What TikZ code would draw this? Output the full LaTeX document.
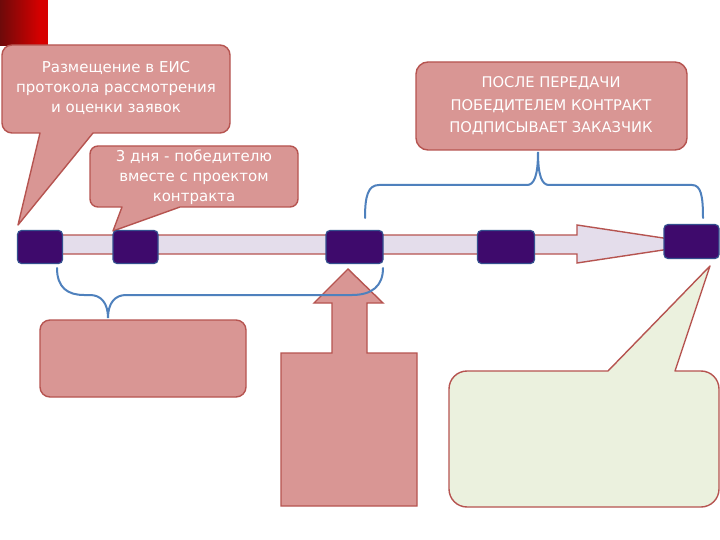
\documentclass[tikz,border=0pt]{standalone}
\usepackage{fontspec}
\setmainfont{DejaVu Sans}
\begin{document}
\begin{tikzpicture}[x=1pt,y=-1pt,
  callfill/.style={fill=calloutred,draw=calloutedge,line width=1.4pt,line join=round},
  creamfill/.style={fill=cream,draw=calloutedge,line width=1.4pt,line join=round},
  calltext/.style={text=white,align=center,font=\fontsize{15}{20}\selectfont},
  capstext/.style={text=white,align=center,font=\fontsize{14.7}{22.5}\selectfont},
  mark box/.style={fill=markpurple,draw=markedge,line width=1.2pt,rounded corners=4pt},
  bracestyle/.style={draw=braceblue,line width=2pt,line cap=round}
]
\definecolor{calloutred}{HTML}{D99694}
\definecolor{calloutedge}{HTML}{B65450}
\definecolor{cream}{HTML}{EBF1DE}
\definecolor{lavender}{HTML}{E4DDEB}
\definecolor{markpurple}{HTML}{3E0A6C}
\definecolor{markedge}{HTML}{34508F}
\definecolor{braceblue}{HTML}{4F81BD}
\definecolor{darkred}{HTML}{6E0A0A}
\definecolor{brightred}{HTML}{D60000}
\useasboundingbox (0,0) rectangle (720,540);
\fill[white] (0,0) rectangle (720,540);
% red corner decoration
\shade[left color=darkred,right color=brightred] (0,0) rectangle (40,46);
\fill[brightred] (40,0) rectangle (48,46);

% timeline arrow
\draw[fill=lavender,draw=calloutedge,line width=1.4pt,line join=miter]
  (20,235) -- (577,235) -- (577,225) -- (703,244) -- (577,263) -- (577,254) -- (20,254) -- cycle;

% callout 1
\draw[callfill] (116,45) [rounded corners=10pt] -- (230,45) -- (230,133) -- (150,133)
  [sharp corners] -- (93,133) -- (18,225) -- (40,133) -- (25,133)
  [rounded corners=10pt] -- (2,133) -- (2,45) -- cycle;
\node[calltext] (c1) at (116,88) {Размещение в ЕИС\\протокола рассмотрения\\и оценки заявок};

% callout 2
\draw[callfill] (194,146) [rounded corners=8pt] -- (298,146) -- (298,207) -- (250,207)
  [sharp corners] -- (180,207) -- (113,231) -- (122,207) -- (110,207)
  [rounded corners=8pt] -- (90,207) -- (90,146) -- cycle;
\node[calltext] (c2) at (194,177) {3 дня - победителю\\вместе с проектом\\контракта};

% callout 3
\draw[callfill,rounded corners=12pt] (416,62) rectangle (687,150);
\node[capstext] (c3) at (551,106) {ПОСЛЕ ПЕРЕДАЧИ\\ПОБЕДИТЕЛЕМ КОНТРАКТ\\ПОДПИСЫВАЕТ ЗАКАЗЧИК};

% top brace
\draw[bracestyle] (365,218) .. controls (365,196) and (368,185) .. (379,185) -- (527,185)
  .. controls (534,185) and (538,176) .. (538,152)
  .. controls (538,176) and (542,185) .. (549,185) -- (692,185)
  .. controls (701,185) and (703,196) .. (703,218);

% markers
\node[mark box,minimum width=45pt,minimum height=33pt,inner sep=0pt] (m1) at (40,247) {};
\node[mark box,minimum width=45pt,minimum height=33pt,inner sep=0pt] (m2) at (135.5,247) {};
\node[mark box,minimum width=57pt,minimum height=33pt,inner sep=0pt] (m3) at (354.5,247) {};
\node[mark box,minimum width=57pt,minimum height=33pt,inner sep=0pt] (m4) at (506,247) {};
\node[mark box,minimum width=55pt,minimum height=34pt,inner sep=0pt] (m5) at (691.5,241.5) {};

% lower-left box
\draw[callfill,rounded corners=10pt] (40,320) rectangle (246,397);

% up arrow callout
\draw[callfill,line join=miter] (348,269) -- (383,303) -- (367,303) -- (367,353) -- (417,353) -- (417,506)
  -- (281,506) -- (281,353) -- (332,353) -- (332,303) -- (314,303) -- cycle;

% bottom brace
\draw[bracestyle] (57,268) .. controls (57,288) and (68,295) .. (84,295) -- (90,295)
  .. controls (101,295) and (108,303) .. (108,318)
  .. controls (108,303) and (115,295) .. (126,295) -- (352,295)
  .. controls (372,295) and (383,286) .. (383,268);

% bottom-right callout
\draw[creamfill] (692,371) [rounded corners=18pt] -- (719,371) -- (719,507) -- (449,507) -- (449,371) -- (560,371)
  [sharp corners] -- (608,371) -- (710,266) -- (675,371) -- cycle;
\end{tikzpicture}
\end{document}
